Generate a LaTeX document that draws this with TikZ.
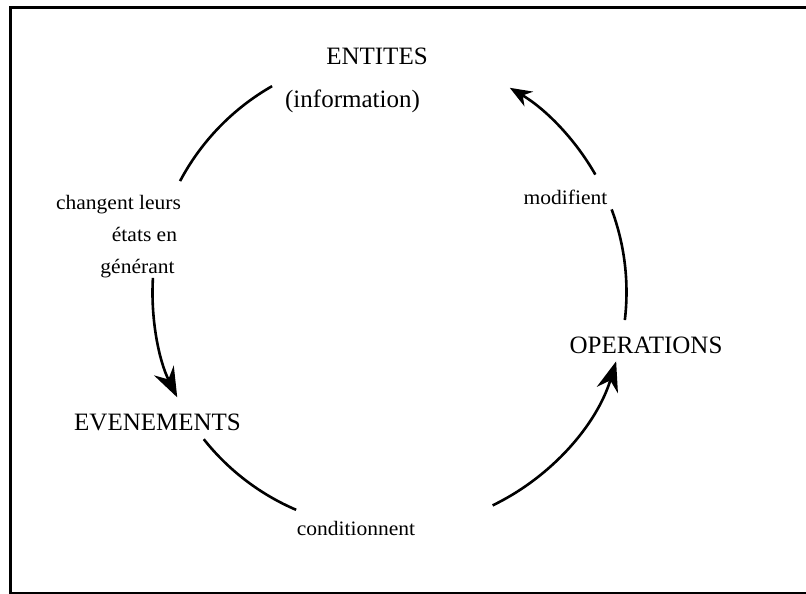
\documentclass[tikz,border=0pt]{standalone}
\usepackage{fontspec}
\setmainfont{Liberation Serif}
\newfontfamily\lblfont[FakeStretch=1.05]{Liberation Serif}
\usetikzlibrary{arrows.meta,calc}
\tikzset{
  big/.style={inner sep=0pt, anchor=base, font=\fontsize{25}{30}\selectfont},
  small/.style={inner sep=0pt, anchor=base, font=\lblfont\fontsize{20.5}{24}\selectfont},
  cyc/.style={line width=2.6pt},
  tipL/.style={-{Stealth[length=30pt,width=22pt,inset=10pt]}},
  tipM/.style={-{Stealth[length=22pt,width=17pt,inset=7pt]}},
}
\begin{document}
\begin{tikzpicture}[x=1pt,y=-1pt]
\useasboundingbox (0,0) rectangle (806,594);
% frame (right side is outside the picture)
\draw[line width=3pt] (812,7.5) -- (10.5,7.5) -- (10.5,592.5);
\draw[line width=2pt] (9,592.5) -- (812,592.5);

% labels
\node[big] (ent) at (377,65) {ENTITES};
\node[big] (info) at (352.5,107) {(information)};
\node[big] (evt) at (157.5,430) {EVENEMENTS};
\node[big] (ops) at (646,353) {OPERATIONS};
\node[small] (mod) at (565.5,204) {modifient};
\node[small] (cond) at (356,535) {conditionnent};
\node[small] (chg1) at (118.5,209) {changent leurs};
\node[small] (chg2) at (144.5,241) {états en};
\node[small] (chg3) at (137.5,273) {générant};

% cycle
\coordinate (O) at (389.5,292);
\coordinate (a1) at ($(O)+(240.3:237)$);
\coordinate (b1) at ($(O)+(183.4:237)$);
\coordinate (c1) at ($(O)+(141.6:237)$);
\coordinate (d1) at ($(O)+(64.2:237)$);
\coordinate (e1) at ($(O)+(6.8:237)$);
\coordinate (f1) at ($(O)+(-29.7:237)$);

\draw[cyc] (a1) arc[start angle=240.3, end angle=207.9, radius=237];
\draw[cyc,tipL] (b1) arc[start angle=183.4, end angle=153.6, radius=237];
\draw[cyc] (c1) arc[start angle=141.6, end angle=113.2, radius=237];
\draw[cyc,tipL] (d1) arc[start angle=64.2, end angle=17.0, radius=237];
\draw[cyc] (e1) arc[start angle=6.8, end angle=-20.4, radius=237];
\draw[cyc,tipM] (f1) arc[start angle=-29.7, end angle=-59.5, radius=237];
\end{tikzpicture}
\end{document}
